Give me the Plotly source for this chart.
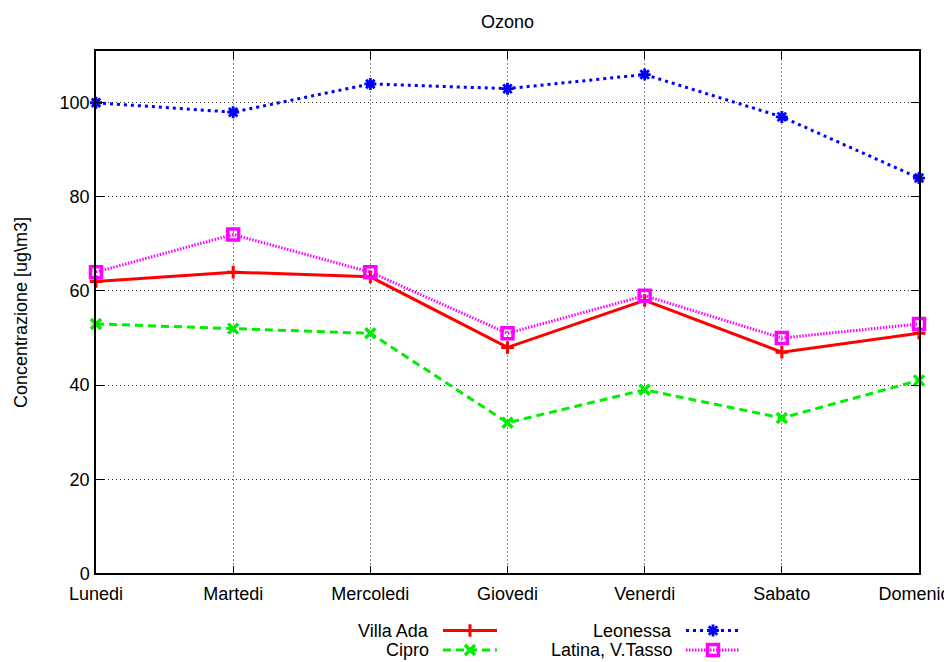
import plotly.graph_objects as go

# ---- data ----
days = ["Lunedi", "Martedi", "Mercoledi", "Giovedi", "Venerdi", "Sabato", "Domenica"]
villa_ada = [62, 64, 63, 48, 58, 47, 51]
cipro = [53, 52, 51, 32, 39, 33, 41]
leonessa = [100, 98, 104, 103, 106, 97, 84]
latina_vtasso = [64, 72, 64, 51, 59, 50, 53]
y_ticks = [0, 20, 40, 60, 80, 100]

FONT = "Liberation Sans, Arial, sans-serif"

series = [
    dict(name="Villa Ada", y=villa_ada, color="#ff0000", dash="solid", width=3,
         symbol="cross-thin", msize=9, mlw=3),
    dict(name="Cipro", y=cipro, color="#00ee00", dash="8px,5px", width=3,
         symbol="x-thin", msize=10, mlw=3.5),
    dict(name="Leonessa", y=leonessa, color="#0000ff", dash="3px,4px", width=3,
         symbol="asterisk", msize=10, mlw=2.8),
    dict(name="Latina, V.Tasso", y=latina_vtasso, color="#ff00ff", dash="1.5px,1.5px", width=3,
         symbol="square-open", msize=11, mlw=3.5),
]

fig = go.Figure()

for s in series:
    fig.add_trace(go.Scatter(
        x=days, y=s["y"], mode="lines+markers", name=s["name"], showlegend=False,
        line=dict(color=s["color"], width=s["width"], dash=s["dash"]),
        marker=dict(symbol=s["symbol"], size=s["msize"], color=s["color"],
                    line=dict(color=s["color"], width=s["mlw"])),
        cliponaxis=False, xaxis="x", yaxis="y",
    ))

# ---- custom key (text left of sample, as in reference) ----
key_pos = [  # (text right edge, sample start, sample end, row y) in key-axis pixel units
    (431, 443, 497, 630.5),
    (431, 443, 497, 650),
    (674, 686, 740, 630.5),
    (674, 686, 740, 650),
]
key_order = [0, 1, 2, 3]
for idx, (tx, x0, x1, ry) in zip(key_order, key_pos):
    s = series[idx]
    fig.add_trace(go.Scatter(
        x=[x0, x1], y=[ry, ry], mode="lines", showlegend=False, hoverinfo="skip",
        line=dict(color=s["color"], width=s["width"], dash=s["dash"]),
        xaxis="x2", yaxis="y2", cliponaxis=False,
    ))
    fig.add_trace(go.Scatter(
        x=[(x0 + x1) / 2], y=[ry], mode="markers", showlegend=False, hoverinfo="skip",
        marker=dict(symbol=s["symbol"], size=s["msize"], color=s["color"],
                    line=dict(color=s["color"], width=s["mlw"])),
        xaxis="x2", yaxis="y2", cliponaxis=False,
    ))
    fig.add_annotation(x=tx, y=ry, xref="x2", yref="y2", text=s["name"], showarrow=False,
                       xanchor="right", yanchor="middle",
                       font=dict(family=FONT, size=18, color="black"))

W, H = 944, 662
ML, MR, MT, MB = 96, 25, 51, 0
plot_h = H - MT - MB
bottom_px = 573.3
ydom0 = (H - MB - bottom_px) / plot_h

fig.update_layout(
    width=W, height=H,
    margin=dict(l=ML, r=MR, t=MT, b=MB, pad=0),
    paper_bgcolor="white", plot_bgcolor="white",
    font=dict(family=FONT, size=18, color="black"),
    title=dict(text="Ozono", x=0.5, xref="paper", xanchor="center",
               y=1 - 22 / H, yref="container", yanchor="middle",
               font=dict(family=FONT, size=18, color="black")),
    showlegend=False,
    xaxis=dict(
        type="category", range=[0, len(days) - 1], domain=[0, 1], anchor="y",
        showline=True, linecolor="black", linewidth=1.5, mirror="ticks",
        ticks="inside", ticklen=8, tickwidth=1, tickcolor="black",
        showgrid=True, gridcolor="#888888", gridwidth=1.2, griddash="2px,2px",
        tickfont=dict(family=FONT, size=18, color="black"),
        automargin=False, zeroline=False, ticklabelstandoff=3,
    ),
    yaxis=dict(
        range=[0, 111], domain=[ydom0, 1], anchor="x",
        tickvals=y_ticks,
        showline=True, linecolor="black", linewidth=1.5, mirror="ticks",
        ticks="inside", ticklen=8, tickwidth=1, tickcolor="black",
        showgrid=True, gridcolor="#333333", gridwidth=1, griddash="1px,3px",
        tickfont=dict(family=FONT, size=18, color="black"),
        automargin=False, zeroline=False, ticklabelstandoff=1,
    ),
    xaxis2=dict(domain=[0, 1], anchor="y2", range=[ML, W - MR], visible=False, fixedrange=True),
    yaxis2=dict(domain=[0, 0.1], anchor="x2", range=[H - MB, H - MB - 0.1 * plot_h],
                visible=False, fixedrange=True),
)

fig.add_annotation(x=(21.5 - 96.5) / 822.5, y=0.5, xref="x domain", yref="y domain",
                   text="Concentrazione [ug\\m3]", textangle=-90, showarrow=False,
                   xanchor="center", yanchor="middle",
                   font=dict(family=FONT, size=18, color="black"))

fig.write_html("out.html", config={"displayModeBar": False},
               post_script="document.body.style.margin='0';document.body.style.overflow='hidden';")
